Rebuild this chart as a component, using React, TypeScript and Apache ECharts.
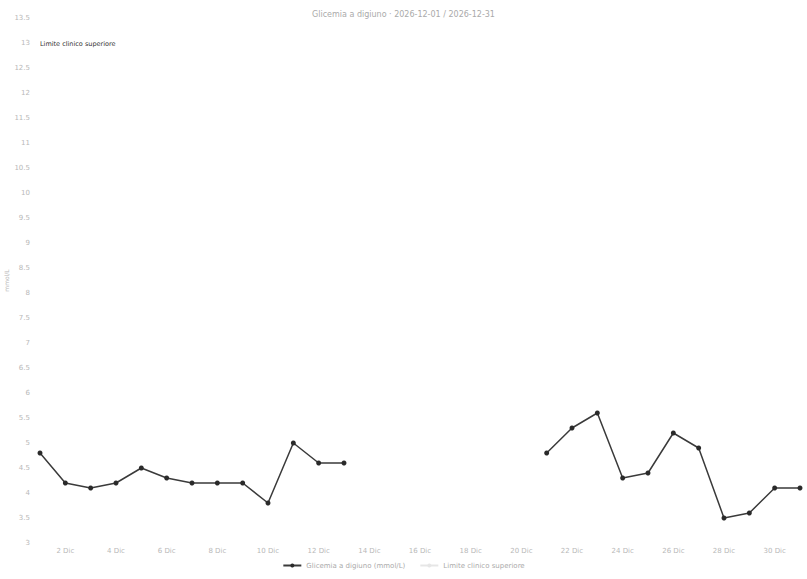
import React, { useEffect, useRef } from "react";
import * as echarts from "echarts";

const categories = [
  "1 Dic", "2 Dic", "3 Dic", "4 Dic", "5 Dic", "6 Dic", "7 Dic", "8 Dic", "9 Dic", "10 Dic",
  "11 Dic", "12 Dic", "13 Dic", "14 Dic", "15 Dic", "16 Dic", "17 Dic", "18 Dic", "19 Dic", "20 Dic",
  "21 Dic", "22 Dic", "23 Dic", "24 Dic", "25 Dic", "26 Dic", "27 Dic", "28 Dic", "29 Dic", "30 Dic", "31 Dic",
];

const glucose: (number | null)[] = [
  4.8, 4.2, 4.1, 4.2, 4.5, 4.3, 4.2, 4.2, 4.2, 3.8, 5.0, 4.6, 4.6,
  null, null, null, null, null, null, null,
  4.8, 5.3, 5.6, 4.3, 4.4, 5.2, 4.9, 3.5, 3.6, 4.1, 4.1,
];

const limitValue = 13;

const titleText = "Glicemia a digiuno · 2026-12-01 / 2026-12-31";
const seriesName = "Glicemia a digiuno (mmol/L)";
const limitName = "Limite clinico superiore";
const limitLabel = "Limite clinico superiore";

export default function App() {
  const ref = useRef<HTMLDivElement>(null);
  useEffect(() => {
    if (!ref.current) return;
    const chart = echarts.init(ref.current, null, { renderer: "svg" });
    const labelColor = "#b8b8b8";
    chart.setOption({
      animation: false,
      backgroundColor: "#ffffff",
      textStyle: { fontFamily: "DejaVu Sans" },
      title: {
        text: titleText,
        left: "center",
        top: 5,
        textStyle: { fontSize: 8, color: "#aaaaaa", fontWeight: "normal" },
      },
      legend: {
        bottom: 5,
        left: "center",
        itemWidth: 18,
        itemHeight: 5,
        itemGap: 14,
        textStyle: { fontSize: 7, color: "#aaaaaa" },
        data: [seriesName, limitName],
      },
      grid: {
        left: 40,
        right: 7,
        top: 18,
        bottom: 36,
        containLabel: false,
        outerBoundsMode: "none",
      },
      xAxis: {
        type: "category",
        data: categories,
        boundaryGap: false,
        axisLine: { show: false },
        axisTick: { show: false },
        axisLabel: {
          fontSize: 7,
          color: labelColor,
          margin: 4,
          interval: (idx: number) => idx % 2 === 1,
        },
        splitLine: { show: false },
      },
      yAxis: {
        type: "value",
        min: 3,
        max: 13.5,
        interval: 0.5,
        name: "mmol/L",
        nameLocation: "middle",
        nameRotate: 90,
        nameGap: 31,
        nameMoveOverlap: false,
        nameTextStyle: { fontSize: 6, color: labelColor },
        axisLine: { show: false },
        axisTick: { show: false },
        axisLabel: { fontSize: 7, color: labelColor, margin: 10 },
        splitLine: { show: false },
      },
      series: [
        {
          name: seriesName,
          type: "line",
          data: glucose,
          connectNulls: false,
          symbol: "circle",
          symbolSize: 5,
          itemStyle: { color: "#2a2a2a" },
          lineStyle: { color: "#3a3a3a", width: 1.5 },
          markLine: {
            silent: true,
            symbol: "none",
            lineStyle: { color: "rgba(255,255,255,0)", width: 1, type: "solid" },
            label: {
              show: true,
              position: "insideStartTop",
              distance: [0, -4],
              formatter: limitLabel,
              fontSize: 6.5,
              color: "#333333",
              opacity: 1,
            },
            data: [{ yAxis: limitValue }],
          },
        },
        {
          name: limitName,
          type: "line",
          data: [],
          symbol: "none",
          itemStyle: { color: "#e6e6e6" },
          lineStyle: { color: "#e6e6e6", width: 1 },
        },
      ],
    });
    return () => chart.dispose();
  }, []);
  return (
    <div
      ref={ref}
      style={{ position: "fixed", left: 0, top: 0, width: 807, height: 579 }}
    />
  );
}
